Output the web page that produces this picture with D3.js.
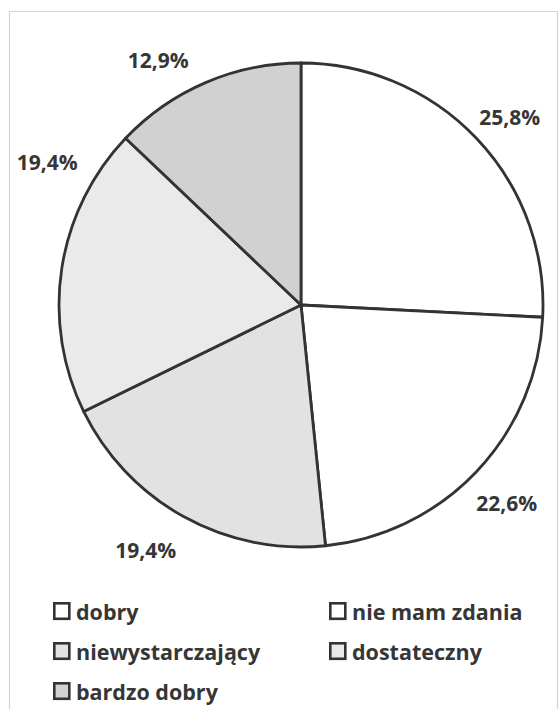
<!DOCTYPE html>
<html>
<head>
<meta charset="utf-8">
<script src="https://d3js.org/d3.v7.min.js"></script>
<style>
  body { margin: 0; background: #fff; }
  text { font-family: "Open Sans", sans-serif; font-weight: bold; fill: #363636; }
</style>
</head>
<body>
<svg id="chart" width="559" height="709"></svg>
<script>
// data: answers out of 31 respondents
const categories = ["dobry", "nie mam zdania", "niewystarczający", "dostateczny", "bardzo dobry"];
const counts = [8, 7, 6, 6, 4];
const percentLabels = ["25,8%", "22,6%", "19,4%", "19,4%", "12,9%"];

const fills = ["#ffffff", "#ffffff", "#e2e2e2", "#eaeaea", "#d1d1d1"];
// Excel moved some labels away from the mid angle
const labelNudge = [[5, 6], [2, 4], [-19, -1], [24, -100], [-32, 13]];

const svg = d3.select("#chart");
const cx = 301, cy = 305, radius = 242;

// faint scanned frame
svg.append("path")
  .attr("d", "M9.5,709 V11.5 H557.5 V709")
  .attr("fill", "none")
  .attr("stroke", "#d4d4d4")
  .attr("stroke-width", 1.2);

const pie = d3.pie().sort(null).value(d => d);
const arcs = pie(counts);
const arc = d3.arc().innerRadius(0).outerRadius(radius);
const labelArc = d3.arc().innerRadius(281).outerRadius(281);

const g = svg.append("g").attr("transform", `translate(${cx},${cy})`);

g.selectAll("path.slice").data(arcs)
  .join("path")
  .attr("class", "slice")
  .attr("d", arc)
  .attr("fill", (d, i) => fills[i])
  .attr("stroke", "#333")
  .attr("stroke-width", 2.8)
  .attr("stroke-linejoin", "round");

g.selectAll("text.pct").data(arcs)
  .join("text")
  .attr("class", "pct")
  .attr("x", (d, i) => labelArc.centroid(d)[0] + labelNudge[i][0])
  .attr("y", (d, i) => labelArc.centroid(d)[1] + labelNudge[i][1])
  .attr("text-anchor", "middle")
  .attr("dominant-baseline", "central")
  .style("font-size", "21px")
  .text((d, i) => percentLabels[i]);

// legend, two columns
const legend = svg.append("g");
const colX = d3.scaleOrdinal().domain([0, 1]).range([53, 329]);
const rowY = d3.scalePoint().domain([0, 1, 2]).range([611, 691]);

const items = legend.selectAll("g.item").data(categories)
  .join("g")
  .attr("class", "item")
  .attr("transform", (d, i) => `translate(${colX(i % 2)},${rowY(Math.floor(i / 2))})`);

items.append("rect")
  .attr("x", 1.3).attr("y", -7.7)
  .attr("width", 15).attr("height", 15.5)
  .attr("fill", (d, i) => fills[i])
  .attr("stroke", "#333")
  .attr("stroke-width", 2.6);

items.append("text")
  .attr("x", 23)
  .attr("y", 0)
  .attr("dominant-baseline", "central")
  .style("font-size", "21.5px")
  .text(d => d);
</script>
</body>
</html>
